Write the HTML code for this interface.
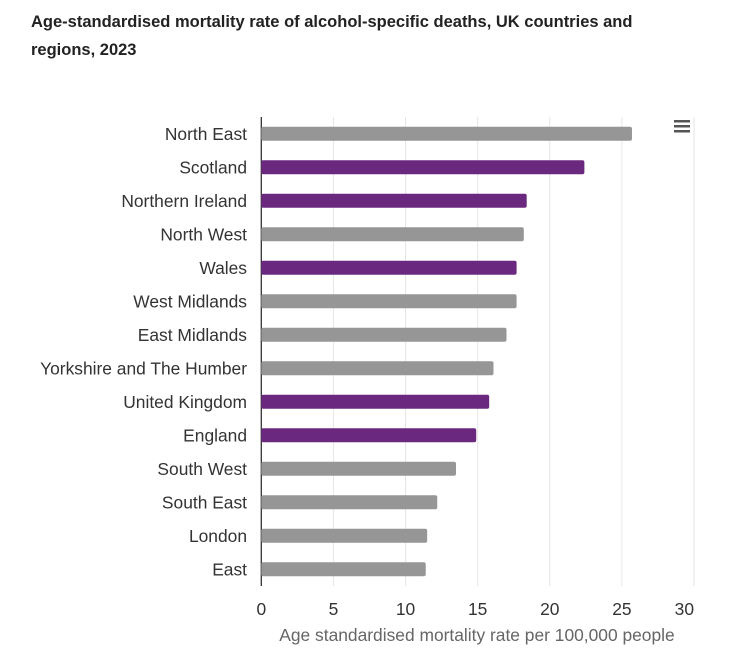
<!DOCTYPE html>
<html><head><meta charset="utf-8"><style>
body{margin:0;background:#fff;font-family:"Liberation Sans",Arial,sans-serif}
#t{position:absolute;left:31px;top:8px;width:640px;font-weight:bold;font-size:16.5px;line-height:28px;color:#222}
</style></head><body>
<div id="t">Age-standardised mortality rate of alcohol-specific deaths, UK countries and regions, 2023</div>
<svg id="c" width="752" height="661" style="position:absolute;left:0;top:0"></svg>
<script>
const categories=["North East","Scotland","Northern Ireland","North West","Wales","West Midlands","East Midlands","Yorkshire and The Humber","United Kingdom","England","South West","South East","London","East"];
const values=[25.7,22.4,18.4,18.2,17.7,17.7,17.0,16.1,15.8,14.9,13.5,12.2,11.5,11.4];
const highlighted=[false,true,true,false,true,false,false,false,true,true,false,false,false,false];
const ticks=[0,5,10,15,20,25,30];
const svg=document.getElementById('c');const NS='http://www.w3.org/2000/svg';
const x0=261.3,x1=694,plotTop=117,plotBot=586;
const xs=v=>x0+(v-0)/(30-0)*(x1-x0);
const band=(plotBot-plotTop)/categories.length;
const yc=i=>plotTop+band*(i+0.5);
function mk(t,a,p){const e=document.createElementNS(NS,t);for(const k in a)e.setAttribute(k,a[k]);(p||svg).appendChild(e);return e;}
ticks.forEach((t,i)=>{
 const g=mk('line',{x1:xs(t),x2:xs(t),y1:plotTop,y2:plotBot,stroke:t===0?'#333':'#e6e6e6','stroke-width':t===0?1.3:1});
 
 
 const last=i===ticks.length-1;
 const l=mk('text',{x:xs(t),y:615,'text-anchor':last?'end':'middle','font-size':17.4,fill:'#333'});l.textContent=t;
 
 
});
categories.forEach((c,i)=>{
 const b=mk('rect',{x:x0,y:yc(i)-7,width:xs(values[i])-x0,height:14,rx:2,fill:highlighted[i]?'#6a287e':'#969696'});
 
 
 const l=mk('text',{x:247,y:yc(i)+6,'text-anchor':'end','font-size':17.4,fill:'#333'});l.textContent=c;
 
 
});
const at=mk('text',{x:477,y:641,'text-anchor':'middle','font-size':17.4,fill:'#666'});at.textContent='Age standardised mortality rate per 100,000 people';


const m=mk('g',{});


[121,126,131].forEach(y=>mk('rect',{x:674,y:y-1,width:16,height:2.5,fill:'#555'},m));
</script>
</body></html>
